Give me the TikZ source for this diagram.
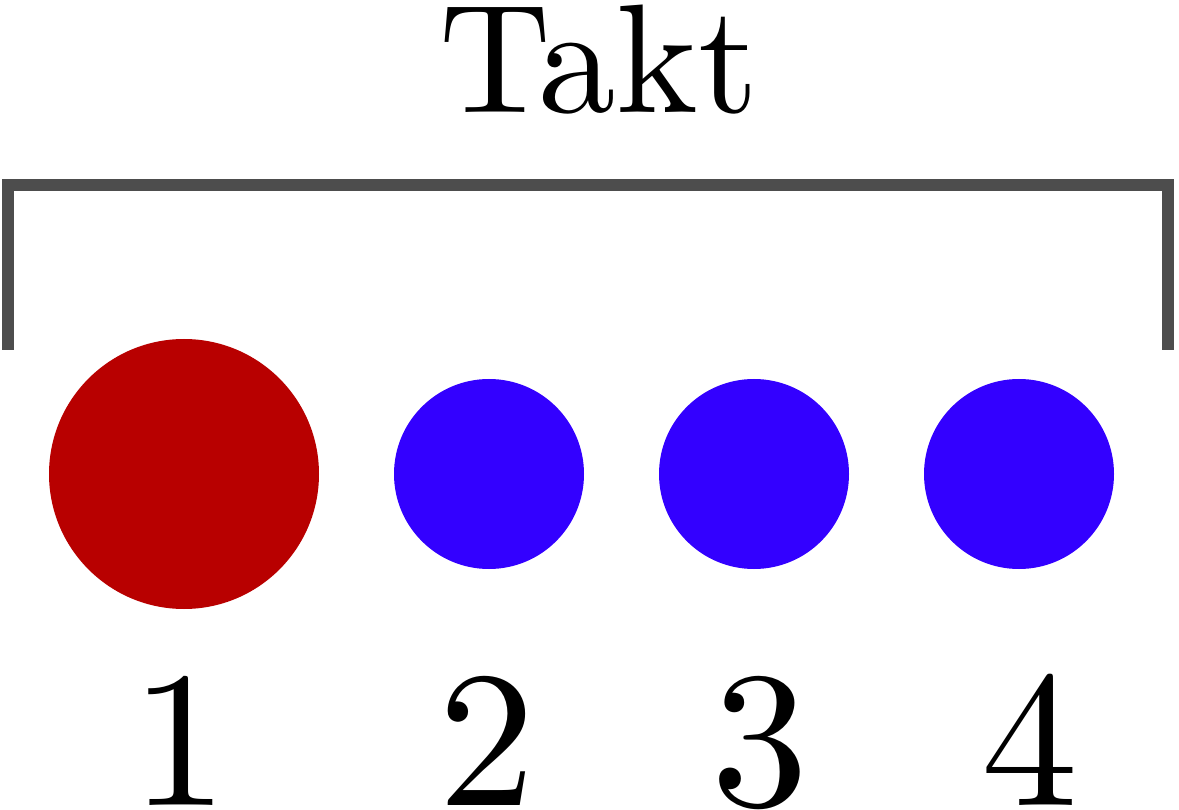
\documentclass[tikz,border=0pt]{standalone}
\usepackage{graphicx}
\begin{document}
\begin{tikzpicture}[x=1pt,y=-1pt,
  dot/.style={circle,inner sep=0pt,draw=none},
  num/.style={anchor=base,inner sep=0pt}]
\useasboundingbox (0,0) rectangle (1179,810);
\definecolor{br}{HTML}{4D4D4D}
\definecolor{rd}{HTML}{B80000}
\definecolor{bl}{HTML}{3300FF}
\coordinate (a) at (8,350);
\coordinate (b) at (1168,350);
\draw[br,line width=12pt] (a) -- (8,185) -- (1168,185) -- (b);
\node[anchor=base,inner sep=0pt] (t) at (599,113) {\scalebox{15.5}{\fontsize{10}{12}\selectfont Takt}};
\node[dot,fill=rd,minimum size=270pt] (c1) at (184,474) {};
\node[dot,fill=bl,minimum size=190pt] (c2) at (489,474) {};
\node[dot,fill=bl,minimum size=190pt] (c3) at (754,474) {};
\node[dot,fill=bl,minimum size=190pt] (c4) at (1019,474) {};
\node[num] (n1) at (180,805) {\scalebox{19.4}{\fontsize{10}{12}\selectfont 1}};
\node[num] (n2) at (487,805) {\scalebox{19.4}{\fontsize{10}{12}\selectfont 2}};
\node[num] (n3) at (760,805) {\scalebox{19.4}{\fontsize{10}{12}\selectfont 3}};
\node[num] (n4) at (1030,805) {\scalebox{19.4}{\fontsize{10}{12}\selectfont 4}};
\end{tikzpicture}
\end{document}
